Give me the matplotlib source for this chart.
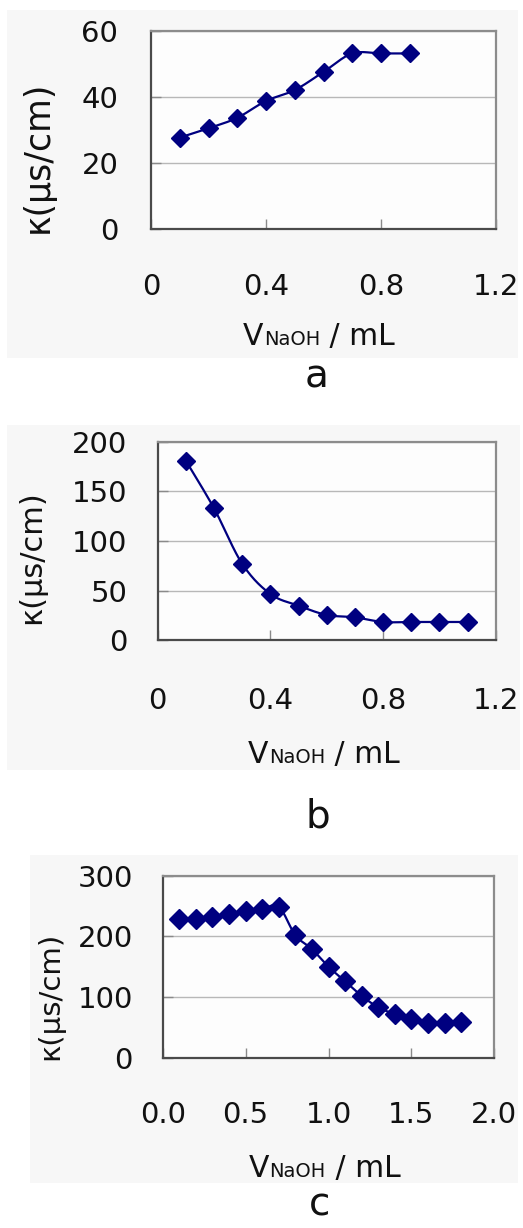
import numpy as np
import matplotlib
matplotlib.use("Agg")
import matplotlib.pyplot as plt
from matplotlib.patches import Rectangle
from matplotlib.transforms import IdentityTransform

# Conductivity titration data (VNaOH in mL, kappa in uS/cm)
x_a = [0.1, 0.2, 0.3, 0.4, 0.5, 0.6, 0.7, 0.8, 0.9]
k_a = [27.7, 30.5, 33.7, 38.8, 42.1, 47.6, 53.2, 53.2, 53.2]

x_b = [0.1, 0.2, 0.3, 0.4, 0.5, 0.6, 0.7, 0.8, 0.9, 1.0, 1.1]
k_b = [181, 133, 77, 46.5, 34.7, 25.3, 22.9, 18.2, 18.2, 18.2, 18.2]

x_c = [0.1, 0.2, 0.3, 0.4, 0.5, 0.6, 0.7, 0.8, 0.9, 1.0, 1.1, 1.2,
       1.3, 1.4, 1.5, 1.6, 1.7, 1.8]
k_c = [228, 228, 232, 237, 241, 245, 249, 202, 179, 150, 126, 102,
       83, 72, 64, 58, 58, 59]

xticks_ab = [0, 0.4, 0.8, 1.2]
xticklabels_ab = ["0", "0.4", "0.8", "1.2"]
xticks_c = [0.0, 0.5, 1.0, 1.5, 2.0]
xticklabels_c = ["0.0", "0.5", "1.0", "1.5", "2.0"]
yticks_a = [0, 20, 40, 60]
yticks_b = [0, 50, 100, 150, 200]
yticks_c = [0, 100, 200, 300]
panel_letters = ["a", "b", "c"]

W, H = 523, 1228
fig = plt.figure(figsize=(W / 100, H / 100), dpi=100)
fig.patch.set_facecolor("white")
FONT = "DejaVu Sans"
NAVY = "#000080"


def fx(px):
    return px / W


def fy(py):
    return 1 - py / H


def smooth(x, y, n=24):
    """Piecewise cubic Bezier through the points (spreadsheet-style smoothing)."""
    p = np.column_stack([x, y]).astype(float)
    ext = np.vstack([p[0], p, p[-1]])
    t = np.linspace(0, 1, n)[:, None]
    pieces = []
    for i in range(1, len(ext) - 2):
        p0, p1 = ext[i], ext[i + 1]
        c1 = p0 + (ext[i + 1] - ext[i - 1]) / 6
        c2 = p1 - (ext[i + 2] - ext[i]) / 6
        seg = ((1 - t) ** 3) * p0 + 3 * ((1 - t) ** 2) * t * c1 \
            + 3 * (1 - t) * t ** 2 * c2 + t ** 3 * p1
        pieces.append(seg if i == 1 else seg[1:])
    s = np.vstack(pieces)
    return s[:, 0], s[:, 1]


panels = [
    dict(x=x_a, k=k_a, ylim=(0, 60), yticks=yticks_a, xlim=(0, 1.2),
         xticks=xticks_ab, xlabels=xticklabels_ab,
         box=(151, 496, 31, 229), bg=(7, 518, 10, 358),
         xpad=31.5, ypad=23.5, ylab=(38, 157, 25), xlab=(319, 345),
         letter=(317, 388), ms=9.5),
    dict(x=x_b, k=k_b, ylim=(0, 200), yticks=yticks_b, xlim=(0, 1.2),
         xticks=xticks_ab, xlabels=xticklabels_ab,
         box=(157.7, 495.7, 442, 640), bg=(7, 520, 425, 770),
         xpad=33.5, ypad=22, ylab=(31.7, 557.5, 22), xlab=(324, 763),
         letter=(318, 828), ms=9.5),
    dict(x=x_c, k=k_c, ylim=(0, 300), yticks=yticks_c, xlim=(0, 2.0),
         xticks=xticks_c, xlabels=xticklabels_c,
         box=(162.7, 494.3, 875.7, 1057.7), bg=(30, 518, 855, 1183),
         xpad=31.5, ypad=21.4, ylab=(50, 996, 21), xlab=(324.5, 1177),
         letter=(320, 1216), ms=10.5),
]

label_texts = []
for letter, cfg in zip(panel_letters, panels):
    # light grey chart area behind each plot
    bl, br, bt, bb = cfg["bg"]
    fig.patches.append(Rectangle((fx(bl), fy(bb)), fx(br) - fx(bl), fy(bt) - fy(bb),
                                 transform=fig.transFigure, facecolor="#f7f7f7",
                                 edgecolor="none", zorder=-5))
    L, R, T, B = cfg["box"]
    ax = fig.add_axes([fx(L), fy(B), fx(R) - fx(L), fy(T) - fy(B)])
    ax.set_facecolor("#fdfdfd")
    ax.set_xlim(*cfg["xlim"])
    ax.set_ylim(*cfg["ylim"])
    ax.set_xticks(cfg["xticks"])
    ax.set_xticklabels(cfg["xlabels"])
    ax.set_yticks(cfg["yticks"])
    ax.yaxis.grid(True, color="#b8b8b8", lw=1.0)
    ax.set_axisbelow(True)
    ax.tick_params(axis="x", direction="in", length=7, width=1, color="#8a8a8a",
                   pad=cfg["xpad"], labelsize=21)
    ax.tick_params(axis="y", direction="in", length=7, width=1, color="#8a8a8a",
                   pad=cfg["ypad"], labelsize=21)
    for lab in ax.get_xticklabels() + ax.get_yticklabels():
        lab.set_fontfamily(FONT)
        lab.set_color("#111111")
    for side in ("left", "bottom"):
        ax.spines[side].set_color("#4a4a4a")
        ax.spines[side].set_linewidth(1.6)
    for side in ("top", "right"):
        ax.spines[side].set_color("#8c8c8c")
        ax.spines[side].set_linewidth(1.6)

    sx, sy = smooth(cfg["x"], cfg["k"])
    ax.plot(sx, sy, color=NAVY, lw=1.6, zorder=3, clip_on=False)
    ax.plot(cfg["x"], cfg["k"], linestyle="none", marker="D", ms=cfg["ms"],
            color=NAVY, mec=NAVY, zorder=4, clip_on=False)

    # y-axis title
    yx, yy, ys = cfg["ylab"]
    fig.text(fx(yx), fy(yy), "\u03ba(\u03bcs/cm)", rotation=90, ha="center",
             va="center", fontsize=ys, family=FONT, color="#111111")

    # panel letter
    lx, ly = cfg["letter"]
    fig.text(fx(lx), fy(ly), letter, ha="center", va="baseline", fontsize=28,
             family=FONT, color="#111111")

    # x-axis title pieces: large V, smaller NaOH, then " / mL"
    cx, base = cfg["xlab"]
    parts = [("V", 21.5), ("NaOH", 14), (" / mL", 21.5)]
    objs = [fig.text(0, H - base, s, transform=IdentityTransform(), ha="left",
                     va="baseline", fontsize=size, family=FONT, color="#111111")
            for s, size in parts]
    label_texts.append((cx, objs))

renderer = fig.canvas.get_renderer()
for cx, objs in label_texts:
    widths = [o.get_window_extent(renderer).width for o in objs]
    x0 = cx - sum(widths) / 2
    for o, w in zip(objs, widths):
        o.set_x(x0)
        x0 += w

fig.savefig("out.png", dpi=100, facecolor="white")
